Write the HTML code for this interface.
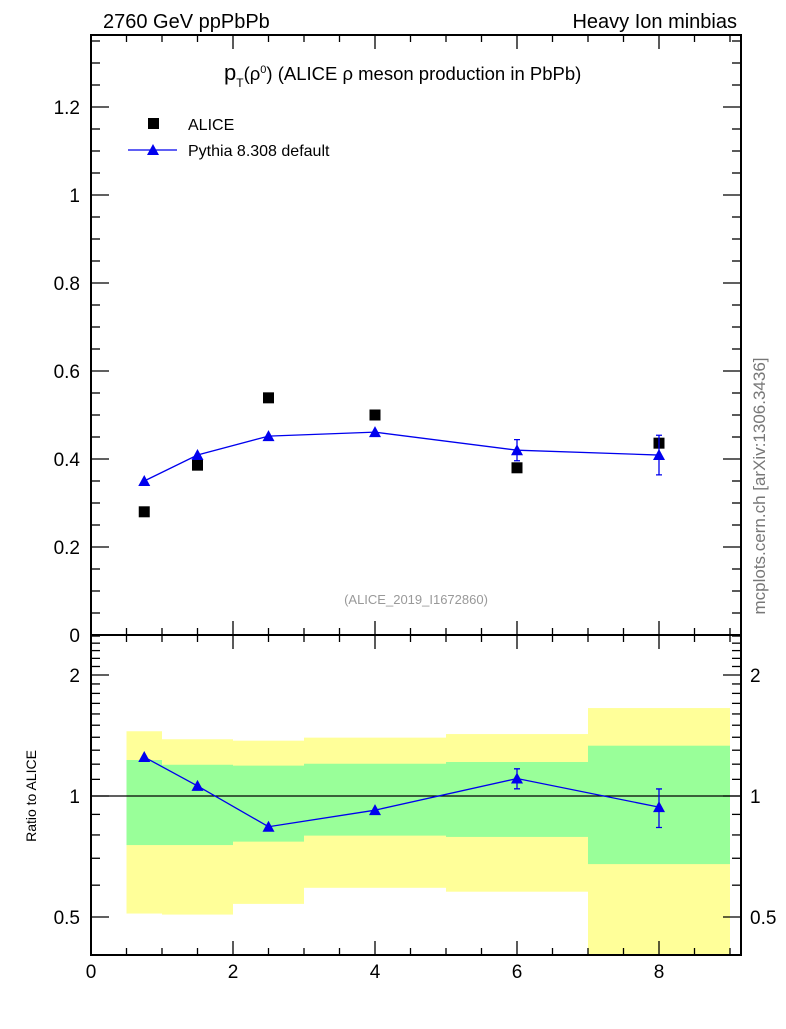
<!DOCTYPE html>
<html><head><meta charset="utf-8"><style>
body{margin:0;background:#fff}
svg{font-family:"Liberation Sans",Arial,sans-serif}
</style></head><body>
<svg id="c" width="786" height="1024" xmlns="http://www.w3.org/2000/svg"></svg>
<script>
const xs=[0.75,1.5,2.5,4,6,8];
const aliceVals=[0.280,0.386,0.539,0.500,0.380,0.436];
const pythiaVals=[0.350,0.409,0.452,0.461,0.420,0.409];
const pythiaErr=[0,0,0,0,0.024,0.045];
const binEdges=[0.5,1,2,3,5,7,9];
const yelTop=[1.449,1.384,1.373,1.397,1.426,1.655];
const yelBot=[0.510,0.507,0.539,0.591,0.578,0.30];
const grnTop=[1.229,1.196,1.190,1.203,1.215,1.334];
const grnBot=[0.755,0.755,0.770,0.797,0.791,0.677];
const xTicks=[0,2,4,6,8];
const yTicks=[0,0.2,0.4,0.6,0.8,1,1.2];
const rTicks=[0.5,1,2];

const NS="http://www.w3.org/2000/svg",svg=document.getElementById('c');
const L=91,R=741,T=35,M=635,B=955;
const X=v=>L+v*71;
const Y=v=>M-v*440;
const RY=v=>796-Math.log2(v)*121;
function el(t,a,p){const e=document.createElementNS(NS,t);for(const k in a)e.setAttribute(k,a[k]);(p||svg).appendChild(e);return e;}
function txt(s,a){const e=el('text',a);e.textContent=s;return e;}

const bands=el('g',{});


for(let i=0;i<yelTop.length;i++){
  const x0=X(binEdges[i]),x1=X(binEdges[i+1]);
  const yb=Math.min(RY(yelBot[i]),B);
  const r1=el('rect',{x:x0,y:RY(yelTop[i]),width:x1-x0,height:yb-RY(yelTop[i]),fill:'#ffff99'},bands);
  
  
  const r2=el('rect',{x:x0,y:RY(grnTop[i]),width:x1-x0,height:RY(grnBot[i])-RY(grnTop[i]),fill:'#99ff99'},bands);
  
  
}
const one=el('line',{x1:L,x2:R,y1:RY(1),y2:RY(1),stroke:'#000','stroke-width':1.2});



const f1=el('rect',{x:L,y:T,width:R-L,height:M-T,fill:'none',stroke:'#000','stroke-width':2});


const f2=el('rect',{x:L,y:M,width:R-L,height:B-M,fill:'none',stroke:'#000','stroke-width':2});



const tk=el('g',{stroke:'#000','stroke-width':1.3});


for(let v=0;v<=9.1;v+=0.5){
  const maj=Math.abs(v/2-Math.round(v/2))<1e-6, len=maj?14:7, x=X(v);
  [T,M,B].forEach(y=>{
    if(y!==T) el('line',{x1:x,x2:x,y1:y,y2:y-len},tk);
    if(y!==B) el('line',{x1:x,x2:x,y1:y,y2:y+len},tk);
  });
}
for(let v=0;v<=1.36;v+=0.05){
  const y=Y(v);if(y<T)break;
  const maj=Math.abs(v/0.2-Math.round(v/0.2))<1e-6,len=maj?18:9;
  el('line',{x1:L,x2:L+len,y1:y,y2:y},tk);el('line',{x1:R,x2:R-len,y1:y,y2:y},tk);
}
[0.5,0.6,0.7,0.8,0.9,1,1.1,1.2,1.3,1.4,1.5,1.6,1.7,1.8,1.9,2,2.1,2.2,2.3,2.4,2.5].forEach(v=>{
  const y=RY(v);if(y<M||y>B)return;
  const maj=rTicks.includes(v),len=maj?18:9;
  el('line',{x1:L,x2:L+len,y1:y,y2:y},tk);el('line',{x1:R,x2:R-len,y1:y,y2:y},tk);
});

xTicks.forEach(v=>{const t=txt(String(v),{x:X(v),y:978,'font-size':19,'text-anchor':'middle'});
  });
yTicks.forEach(v=>{const t=txt(String(v),{x:80,y:Y(v)+7,'font-size':19,'text-anchor':'end'});
  });
rTicks.forEach(v=>{
  const a=txt(String(v),{x:80,y:RY(v)+7,'font-size':19,'text-anchor':'end'});
  
  const b=txt(String(v),{x:750,y:RY(v)+7,'font-size':19});
  
});

const alicePts=el('g',{});


xs.forEach((x,i)=>{const r=el('rect',{x:X(x)-5.5,y:Y(aliceVals[i])-5.5,width:11,height:11,fill:'#000'},alicePts);
  });

function tri(cx,cy,g){const p=el('polygon',{points:`${cx},${cy-6} ${cx-6},${cy+5} ${cx+6},${cy+5}`,fill:'#0000ee'},g);
  }
function series(yf,vals,errs,name){
  const g=el('g',{});
  
  
  el('polyline',{points:xs.map((x,i)=>X(x)+','+yf(vals[i])).join(' '),fill:'none',stroke:'#0000ee','stroke-width':1.3},g);
  xs.forEach((x,i)=>{
    if(errs[i]>0){const y1=yf(vals[i]+errs[i]),y2=yf(vals[i]-errs[i]),cx=X(x);
      el('path',{d:`M${cx},${y1}V${y2}M${cx-3},${y1}H${cx+3}M${cx-3},${y2}H${cx+3}`,stroke:'#0000ee','stroke-width':1.3},g);}
    tri(X(x),yf(vals[i]),g);
  });
}
series(Y,pythiaVals,pythiaErr,'pythia-series');
const ratio=pythiaVals.map((p,i)=>p/aliceVals[i]);
const rErr=pythiaErr.map((e,i)=>e/aliceVals[i]);
series(RY,ratio,rErr,'pythia-ratio-series');

const lg=el('g',{});


el('rect',{x:148,y:118,width:11,height:11,fill:'#000'},lg);
const l1=txt('ALICE',{x:188,y:130,'font-size':16});lg.appendChild(l1);
el('line',{x1:128,x2:177,y1:150,y2:150,stroke:'#0000ee','stroke-width':1.3},lg);
tri(153,150,lg);
const l2=txt('Pythia 8.308 default',{x:188,y:156,'font-size':16});lg.appendChild(l2);

const t1=txt('2760 GeV ppPbPb',{x:103,y:28,'font-size':20});

const t2=txt('Heavy Ion minbias',{x:737,y:28,'font-size':20,'text-anchor':'end'});

const t3=el('text',{x:224,y:80,'font-size':18.5});

t3.innerHTML='<tspan font-size="22">p</tspan><tspan font-size="12" dy="7">T</tspan><tspan dy="-7">(ρ</tspan><tspan font-size="11" dy="-7">0</tspan><tspan dy="7">) (ALICE ρ meson production in PbPb)</tspan>';
const t4=txt('(ALICE_2019_I1672860)',{x:416,y:604,'font-size':13,'text-anchor':'middle',fill:'#999'});

const t5=txt('mcplots.cern.ch [arXiv:1306.3436]',{x:0,y:0,'font-size':17,'text-anchor':'middle',fill:'#777',transform:'translate(765,486) rotate(-90)'});

const t6=txt('Ratio to ALICE',{x:0,y:0,'font-size':14,'text-anchor':'middle',transform:'translate(36,796) rotate(-90)'});

</script>
</body></html>
